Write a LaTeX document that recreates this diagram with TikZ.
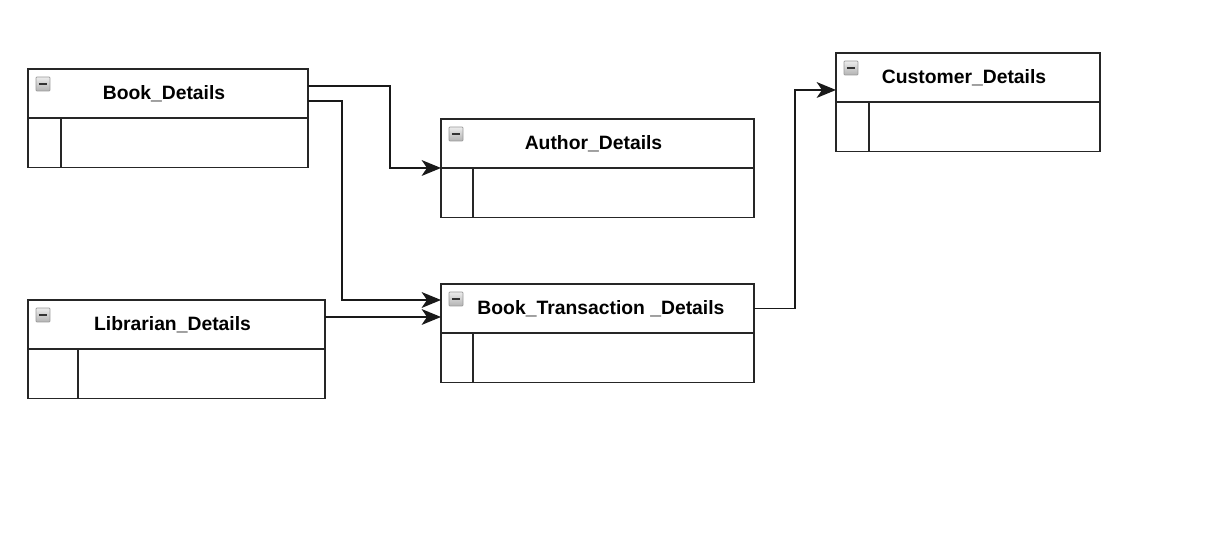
\documentclass[tikz,border=0pt]{standalone}
\usepackage{fontspec}
\setmainfont{Liberation Sans}
\usepackage{tikz}
\usetikzlibrary{positioning}
\usetikzlibrary{calc,arrows.meta}
\tikzstyle{header} = [rectangle, draw=black!85, line width=0.9pt, outer sep=0pt, minimum height=0.98cm, inner sep=0pt, font=\bfseries\fontsize{11}{13}\selectfont, execute at begin node={\hspace*{-4.5pt}}]
\tikzstyle{body} = [rectangle, draw=black!85, line width=0.9pt, outer sep=0pt, minimum height=0.99cm, inner sep=0pt, anchor=north]
\tikzstyle{divider} = [draw=black!85, line width=0.9pt]
\tikzstyle{icon} = [rectangle, rounded corners=0.5pt, draw=gray!80, line width=0.4pt, top color=gray!15, bottom color=gray!60, minimum size=0.28cm, inner sep=0pt,
  path picture={\draw[black!80, line width=1.4pt] ([xshift=1.6pt]path picture bounding box.west) -- ([xshift=-1.6pt]path picture bounding box.east);}]
\tikzstyle{arrow} = [draw=black!90, line width=0.9pt, -{Stealth[length=11pt,width=9pt,inset=3pt]}]

\begin{document}
\begin{tikzpicture}[x=0.02cm, y=-0.02cm]
\useasboundingbox (0,0) rectangle (1218,546);

%% tables
\node[header, minimum width=5.6cm, anchor=north west] at (28, 69) (book) {Book\_Details};
\node[body, minimum width=5.6cm] at (book.south) (bookbody) {};
\path[divider] ($(bookbody.north west)+(33,0)$) -- ($(bookbody.south west)+(33,0)$);
\node[icon] at ($(book.north west)+(15,15)$) (bookicon) {};

\node[header, minimum width=6.26cm, anchor=north west] at (441, 119) (author) {Author\_Details};
\node[body, minimum width=6.26cm] at (author.south) (authorbody) {};
\path[divider] ($(authorbody.north west)+(32,0)$) -- ($(authorbody.south west)+(32,0)$);
\node[icon] at ($(author.north west)+(15,15)$) (authoricon) {};

\node[header, minimum width=5.28cm, anchor=north west] at (836, 53) (cust) {Customer\_Details};
\node[body, minimum width=5.28cm] at (cust.south) (custbody) {};
\path[divider] ($(custbody.north west)+(33,0)$) -- ($(custbody.south west)+(33,0)$);
\node[icon] at ($(cust.north west)+(15,15)$) (custicon) {};

\node[header, minimum width=5.94cm, anchor=north west] at (28, 300) (lib) {Librarian\_Details};
\node[body, minimum width=5.94cm] at (lib.south) (libbody) {};
\path[divider] ($(libbody.north west)+(50,0)$) -- ($(libbody.south west)+(50,0)$);
\node[icon] at ($(lib.north west)+(15,15)$) (libicon) {};

\node[header, minimum width=6.26cm, anchor=north west, execute at begin node={\hspace*{8.5pt}}] at (441, 284) (trans) {Book\_Transaction \_Details};
\node[body, minimum width=6.26cm] at (trans.south) (transbody) {};
\path[divider] ($(transbody.north west)+(32,0)$) -- ($(transbody.south west)+(32,0)$);
\node[icon] at ($(trans.north west)+(15,15)$) (transicon) {};

%% links
\path[arrow] ($(book.east)+(0,-7.5)$) -| ($(author.south west)+(-51,0)$) -- (author.south west);
\path[arrow] ($(book.east)+(0,7.5)$) -| ($(trans.north west)+(-99,16)$) -- ($(trans.north west)+(0,16)$);
\path[arrow] ($(lib.east)+(0,-7.5)$) -- ($(trans.west)+(0,8.5)$);
\path[arrow] (trans.east) -| ($(cust.west)+(-41,12.5)$) -- ($(cust.west)+(0,12.5)$);

\end{tikzpicture}
\end{document}
